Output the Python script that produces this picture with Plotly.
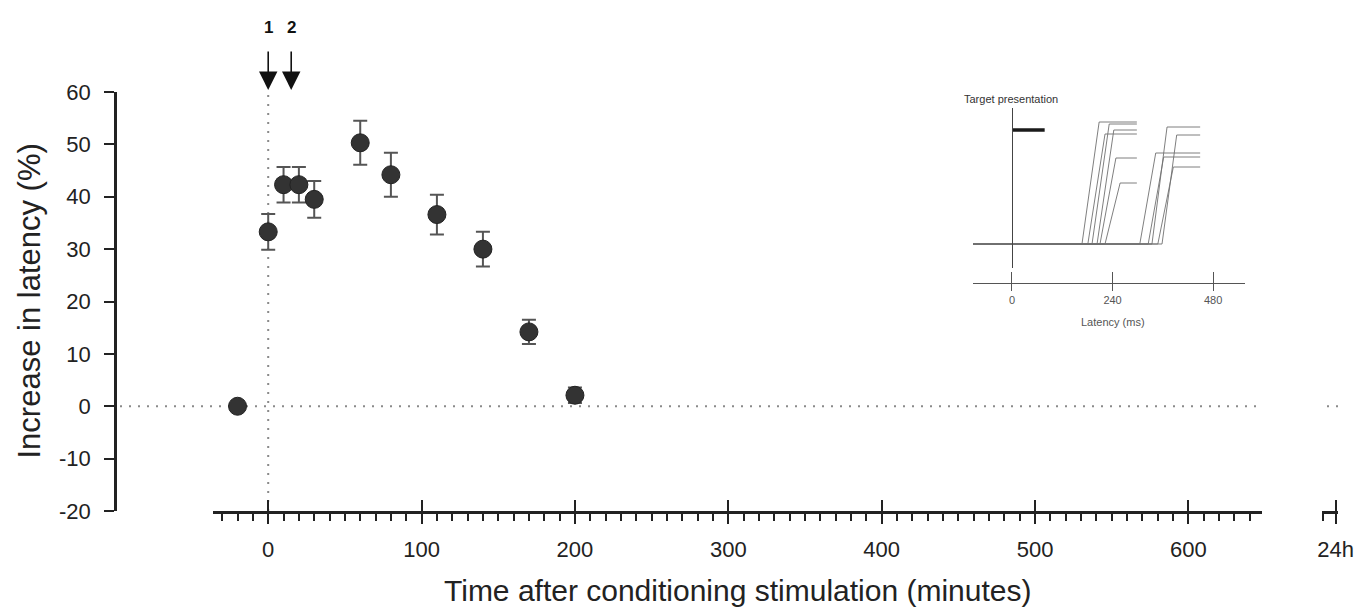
import plotly.graph_objects as go

# ---------------- data ----------------
time_min = [-20, 0, 10, 20, 30, 60, 80, 110, 140, 170, 200]
latency_increase = [0.0, 33.3, 42.3, 42.3, 39.5, 50.3, 44.2, 36.6, 30.0, 14.2, 2.1]
latency_sem = [0.0, 3.4, 3.4, 3.4, 3.5, 4.2, 4.2, 3.8, 3.3, 2.3, 1.5]

x_tick_vals = [0, 100, 200, 300, 400, 500, 600]
y_tick_vals = [-20, -10, 0, 10, 20, 30, 40, 50, 60]
y_tick_text = ["-20", "-10", "0", "10", "20", "30", "40", "50", "60"]
stim_times = [0, 15]
stim_labels = ["1", "2"]
day_tick_val = [1440]
day_tick_text = ["24h"]

# inset: eye-position traces (latency in ms, position in arbitrary units)
inset_start_ms = -93
inset_onset_ms = [167, 181, 191, 203, 210, 222, 305, 325, 334, 348, 358]
inset_plateau_ms = [208, 222, 232, 243, 248, 258, 343, 362, 370, 385, 393]
inset_end_ms = [298, 298, 298, 298, 298, 298, 449, 449, 449, 449, 449]
inset_level = [12.2, 11.0, 12.0, 11.4, 8.6, 6.1, 9.1, 8.7, 11.7, 7.7, 10.9]
target_on_ms, target_off_ms, target_level = 0, 78, 11.4
inset_tick_vals = [0, 240, 480]

# ---------------- layout helpers ----------------
W, H = 1356, 610
L, R, T, B = 115, 0, 92, 99
PW, PH = W - L - R, H - T - B


def px_x(p):
    return (p - L) / PW


def px_y(p):
    return (H - B - p) / PH


FONT = "Arial, 'Liberation Sans', sans-serif"
INK = "#222222"
DOT = "#8a8a8a"

fig = go.Figure()

# main data
fig.add_trace(go.Scatter(
    x=time_min, y=latency_increase, mode="markers",
    marker=dict(size=18, color="#333333", line=dict(width=1, color="#222222")),
    error_y=dict(type="data", array=latency_sem, color="#555555", thickness=2, width=7),
    xaxis="x", yaxis="y", showlegend=False, cliponaxis=False,
))

# inset traces
for on, pl, en, lv in zip(inset_onset_ms, inset_plateau_ms, inset_end_ms, inset_level):
    fig.add_trace(go.Scatter(
        x=[inset_start_ms, on, pl, en], y=[0, 0, lv, lv], mode="lines",
        line=dict(color="#707070", width=0.9), xaxis="x2", yaxis="y2",
        showlegend=False, hoverinfo="skip",
    ))
fig.add_trace(go.Scatter(
    x=[target_on_ms, target_off_ms], y=[target_level, target_level], mode="lines",
    line=dict(color="#1a1a1a", width=3.5), xaxis="x2", yaxis="y2", showlegend=False,
))

# empty carrier traces so that the decorative axes are always drawn
for xa, ya in [("x3", "y"), ("x5", "y"), ("x6", "y"), ("x", "y3"), ("x4", "y2")]:
    fig.add_trace(go.Scatter(x=[], y=[], xaxis=xa, yaxis=ya, showlegend=False,
                             hoverinfo="skip"))

common_main_x = dict(range=[-36, 648], showgrid=False, zeroline=False, automargin=False)

fig.update_layout(
    width=W, height=H, autosize=False,
    margin=dict(l=L, r=R, t=T, b=B, autoexpand=False),
    paper_bgcolor="white", plot_bgcolor="white",
    font=dict(family=FONT, color=INK),
    showlegend=False,
    xaxis=dict(
        domain=[px_x(213), px_x(1262)], anchor="y", **common_main_x,
        tickmode="array", tickvals=x_tick_vals,
        ticks="outside", ticklen=10, tickwidth=2, tickcolor=INK,
        showline=True, linewidth=2.5, linecolor=INK, ticklabelstandoff=7,
        tickfont=dict(size=22, color=INK),
        minor=dict(ticks="outside", tick0=0, dtick=10, ticklen=7, tickwidth=2, tickcolor=INK),
    ),
    xaxis3=dict(
        overlaying="x", anchor="y", **common_main_x,
        tickmode="array", tickvals=x_tick_vals, ticks="inside", ticklen=11,
        tickwidth=2, tickcolor=INK, showticklabels=False, showline=False,
    ),
    xaxis5=dict(
        domain=[px_x(1322), px_x(1338)], anchor="y", range=[1428, 1442], automargin=False,
        tickmode="array", tickvals=day_tick_val, ticktext=day_tick_text,
        ticks="outside", ticklen=10, tickwidth=2, tickcolor=INK,
        showline=True, linewidth=2.5, linecolor=INK, showgrid=False, zeroline=False,
        tickfont=dict(size=22, color=INK), ticklabelstandoff=7,
        minor=dict(ticks="outside", tickvals=[1429], ticklen=7, tickwidth=2, tickcolor=INK),
    ),
    xaxis6=dict(
        overlaying="x5", anchor="y", range=[1428, 1442], automargin=False,
        tickmode="array", tickvals=day_tick_val, ticks="inside", ticklen=11,
        tickwidth=2, tickcolor=INK, showticklabels=False, showline=False,
        showgrid=False, zeroline=False,
    ),
    yaxis=dict(
        domain=[0, 1], range=[-20, 60], anchor="free", position=0, automargin=False,
        tickmode="array", tickvals=y_tick_vals, ticktext=y_tick_text,
        ticks="outside", ticklen=10, tickwidth=2, tickcolor=INK,
        showline=True, linewidth=2.5, linecolor=INK, ticklabelstandoff=9,
        showgrid=False, zeroline=False, tickfont=dict(size=22, color=INK),
    ),
    yaxis3=dict(
        overlaying="y", range=[-20, 60], anchor="free", position=0, automargin=False,
        tickmode="array", tickvals=[-20], ticks="inside", ticklen=6, tickwidth=2,
        tickcolor=INK, showticklabels=False, showline=False, showgrid=False, zeroline=False,
    ),
    # inset axes
    xaxis2=dict(
        domain=[px_x(973), px_x(1245)], range=[-93, 556], anchor="free", position=px_y(283),
        tickmode="array", tickvals=inset_tick_vals, automargin=False,
        ticks="outside", ticklen=7, tickwidth=1.2, tickcolor="#555555",
        showline=True, linewidth=1.2, linecolor="#555555",
        showgrid=False, zeroline=False, tickfont=dict(size=11, color="#555555"),
    ),
    xaxis4=dict(
        overlaying="x2", range=[-93, 556], anchor="free", position=px_y(283), automargin=False,
        tickmode="array", tickvals=inset_tick_vals, ticks="inside", ticklen=11,
        tickwidth=1.2, tickcolor="#555555", showticklabels=False, showline=False,
        showgrid=False, zeroline=False,
    ),
    yaxis2=dict(
        domain=[px_y(268), px_y(108)], range=[-2.4, 13.6], anchor="free", position=px_x(1012),
        showline=True, linewidth=1.2, linecolor="#444444", ticks="", automargin=False,
        showticklabels=False, showgrid=False, zeroline=False,
    ),
)

# dotted reference lines
fig.add_shape(type="line", xref="x", yref="y", x0=stim_times[0], x1=stim_times[0], y0=-20, y1=60,
              line=dict(color=DOT, width=2, dash="2px,7px"), layer="below")
fig.add_shape(type="line", xref="paper", yref="y", x0=px_x(120), x1=px_x(1263), y0=0, y1=0,
              line=dict(color=DOT, width=2, dash="2px,7px"), layer="below")
fig.add_shape(type="line", xref="paper", yref="y", x0=px_x(1327), x1=px_x(1343), y0=0, y1=0,
              line=dict(color=DOT, width=2, dash="2px,7px"), layer="below")

annotations = [
    dict(text="Increase in latency (%)", textangle=-90, xref="paper", yref="paper",
         x=px_x(29), y=0.5, xanchor="center", yanchor="middle", showarrow=False,
         font=dict(size=31, color=INK)),
    dict(text="Time after conditioning stimulation (minutes)", xref="paper", yref="paper",
         x=px_x(737), y=px_y(590), xanchor="center", yanchor="middle", showarrow=False,
         font=dict(size=30, color=INK)),
    dict(text="Target presentation", xref="paper", yref="paper",
         x=px_x(1011), y=px_y(99), xanchor="center", yanchor="middle", showarrow=False,
         font=dict(size=11, color="#333333")),
    dict(text="Latency (ms)", xref="paper", yref="paper",
         x=px_x(1113), y=px_y(322), xanchor="center", yanchor="middle", showarrow=False,
         font=dict(size=11, color="#555555")),
]
for t, lab in zip(stim_times, stim_labels):
    annotations.append(dict(text="<b>%s</b>" % lab, xref="x", yref="paper", x=t, y=px_y(27),
                            xanchor="center", yanchor="middle", showarrow=False,
                            font=dict(size=17, color="#111111")))
    annotations.append(dict(text="", xref="x", yref="paper", x=t, y=px_y(90),
                            ax=0, ay=-40, showarrow=True, arrowhead=2, arrowsize=2.3,
                            arrowwidth=1.6, arrowcolor="#111111", standoff=0))
fig.update_layout(annotations=annotations)

fig.write_html(
    "out.html",
    config={"displayModeBar": False, "responsive": False},
    post_script="document.body.style.margin='0px';document.body.style.overflow='hidden';",
)
